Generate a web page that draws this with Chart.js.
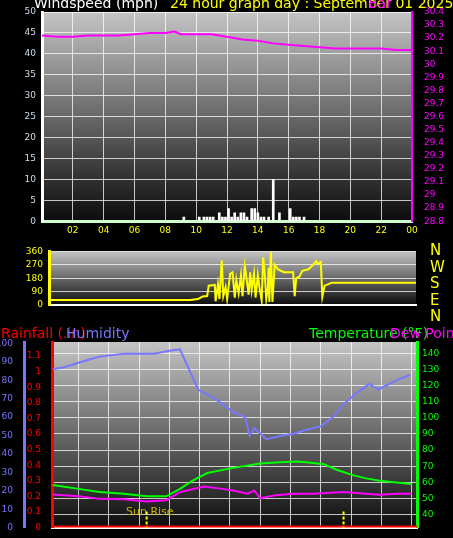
<!DOCTYPE html>
<html><head><meta charset="utf-8">
<script src="https://cdn.jsdelivr.net/npm/chart.js@4/dist/chart.umd.min.js"></script>
<style>
body{margin:0;background:#000;width:453px;height:538px;overflow:hidden;font-family:"DejaVu Sans",sans-serif}
.box{position:absolute;left:0;width:453px}
.t{position:absolute;font-size:14px;white-space:nowrap;line-height:16px}
</style></head><body>
<div class="box" style="top:0;height:240px"><canvas id="c1"></canvas></div>
<div class="box" style="top:240px;height:80px"><canvas id="c2"></canvas></div>
<div class="box" style="top:320px;height:218px"><canvas id="c3"></canvas></div>
<div class="t" style="left:34px;top:-5px;color:#fff">Windspeed (mph)</div>
<div class="t" style="left:170px;top:-5px;color:#ff0">24 hour graph day : September 01 2025</div>
<div class="t" style="left:368px;top:-5px;color:#f0f">Bar</div>
<div class="t" style="left:430px;top:242px;color:#ff0;line-height:16.5px;font-size:15px">N<br>W<br>S<br>E<br>N</div>
<div class="t" style="left:1px;top:325px;color:#f00">Rainfall (.in)</div>
<div class="t" style="left:66px;top:325px;color:#77f">Humidity</div>
<div class="t" style="left:309px;top:325px;color:#0f0">Temperature (°F)</div>
<div class="t" style="left:390px;top:325px;color:#f0f">Dew Point</div>
<div class="t" style="left:126px;top:504px;color:#c8b400;font-size:11px">Sun Rise</div>
<script>
// --- data ---
const evenHours = [2,4,6,8,10,12,14,16,18,20,22,24];
const hourLabels = ['02','04','06','08','10','12','14','16','18','20','22','00'];
const humTicks = [0,10,20,30,40,50,60,70,80,90,100];
const rainTicks = [0,0.1,0.2,0.3,0.4,0.5,0.6,0.7,0.8,0.9,1,1.1];
const tempTicks = [40,50,60,70,80,90,100,110,120,130,140];

const baroHours = [0,1,2,3,4,5,6,7,8,8.6,9,10,11,12,13,14,15,16,17,18,19,20,21,22,23,24];
const baroValues = [30.22,30.21,30.21,30.22,30.22,30.22,30.23,30.24,30.24,30.25,30.23,30.23,30.23,30.21,30.19,30.18,30.16,30.15,30.14,30.13,30.12,30.12,30.12,30.12,30.11,30.11];

const windHours = [9.2,10.2,10.5,10.7,10.9,11.1,11.5,11.7,11.9,12.1,12.3,12.5,12.7,12.9,13.1,13.3,13.6,13.8,14.0,14.2,14.4,14.7,15.0,15.4,16.1,16.3,16.5,16.7,17.0];
const windSpeeds = [1,1,1,1,1,1,2,1,1,3,1,2,1,2,2,1,3,3,2,1,1,1,10,2,3,1,1,1,1];

const dirHours = [0.5,9.7,10.2,10.5,10.8,10.9,11.3,11.35,11.5,11.6,11.75,11.85,12.0,12.1,12.3,12.45,12.6,12.7,12.85,13.0,13.1,13.25,13.35,13.5,13.6,13.7,13.85,13.95,14.1,14.2,14.35,14.45,14.55,14.65,14.75,14.8,14.85,14.95,15.05,15.2,15.4,15.8,16.4,16.5,16.6,16.8,17.0,17.4,17.7,17.9,18.0,18.2,18.3,18.45,18.7,18.9,24.4];
const dirValues = [34,34,40,57,60,130,135,25,140,40,300,60,120,40,210,220,50,170,80,200,60,260,190,70,220,100,210,50,200,120,30,320,210,40,110,250,20,360,20,270,240,220,220,60,180,190,230,240,270,295,275,290,55,130,140,150,150];

const humHours = [0.3,1,2,3,3.5,5,7,8,8.7,9.4,9.9,11,12.2,13,13.3,13.6,14.4,15.5,16.2,17,18,18.8,19.5,20.5,21.2,21.8,23,23.9];
const humValues = [86,87,89.5,92,93,94.4,94.4,96,96.8,84,75,70,62.7,60,50,54,48,50,51,53,55,60,67,74,78,75,80,83];

const tempHours = [0.3,2,3.4,5,6.5,7.8,8.7,9.5,10.5,12.2,14,15,16.4,17.2,18.2,19,20.1,21,21.9,23,24];
const tempValues = [58.4,56,54,53,51.5,51.4,56,61,65.8,69,71.7,72.3,72.9,72.3,71.3,68,64.5,62.5,61,60,59];

const dewHours = [0.3,2,3.4,5,6.5,7.8,8.7,10.3,11.5,12.2,13.2,13.6,14,15,16.2,17.5,19.5,21,21.9,23,24];
const dewValues = [52.5,51.5,49.8,49.5,48.2,49,54,57.4,56,55,53,55,50.2,52,53,53,54,53,52.3,53,53];

const rainHours = [0.25,24.35];
const rainValues = [0,0];
const sunHours = [6.5,19.5];

const pts = (xs, ys) => xs.map((x, i) => ({x: x, y: ys[i]}));
const font = {family: 'DejaVu Sans', size: 9};
const grid = {color: 'rgba(255,255,255,0.75)', borderDash: [2,2], lineWidth: 1, drawTicks: false};

const bgPlugin = {
  id: 'bg',
  beforeDraw(chart) {
    const a = chart.chartArea, ctx = chart.ctx;
    const g = ctx.createLinearGradient(0, a.top, 0, a.bottom);
    g.addColorStop(0, '#c4c4c4');
    g.addColorStop(1, '#0c0c0c');
    ctx.fillStyle = g;
    ctx.fillRect(a.left, a.top, a.right - a.left, a.bottom - a.top);
  }
};
const sunPlugin = {
  id: 'sun',
  afterDatasetsDraw(chart) {
    const ctx = chart.ctx, x = chart.scales.x, a = chart.chartArea;
    ctx.save();
    ctx.strokeStyle = '#ff0'; ctx.lineWidth = 2; ctx.setLineDash([3,2]);
    sunHours.forEach(h => {
      const px = x.getPixelForValue(h);
      ctx.beginPath(); ctx.moveTo(px, a.bottom - 16); ctx.lineTo(px, a.bottom); ctx.stroke();
    });
    ctx.restore();
  }
};
const fixW = w => function(s) { s.width = w; };
const setTicks = list => s => { s.ticks = list.map(v => ({value: v})); };

// Windspeed + barometer
new Chart(document.getElementById('c1'), {
  type: 'bar',
  data: {datasets: [
    {type: 'line', data: pts(baroHours, baroValues), yAxisID: 'yb', borderColor: '#f0f', borderWidth: 2, pointRadius: 0, tension: 0},
    {data: pts(windHours, windSpeeds), backgroundColor: '#fff', barThickness: 2, yAxisID: 'y'}
  ]},
  options: {
    animation: false, responsive: true, maintainAspectRatio: false,
    layout: {padding: {top: 12}},
    plugins: {legend: {display: false}, tooltip: {enabled: false}},
    scales: {
      x: {type: 'linear', offset: false, min: 0, max: 24, grid: {...grid, offset: false}, border: {color: '#cfc', width: 3},
          afterBuildTicks: setTicks(evenHours),
          ticks: {color: '#ff0', font: font, padding: 4, callback: v => hourLabels[evenHours.indexOf(v)]}},
      y: {min: 0, max: 50, position: 'left', afterFit: fixW(42), grid: grid, border: {color: '#fff', width: 3},
          ticks: {stepSize: 5, autoSkip: false, color: '#cde', font: font, padding: 6}},
      yb: {min: 28.8, max: 30.4, position: 'right', afterFit: fixW(41), grid: {display: false}, border: {color: '#f0f', width: 2},
          ticks: {stepSize: 0.1, autoSkip: false, color: '#f0f', font: font, padding: 4, callback: v => Math.round(v * 10) / 10}}
    }
  },
  plugins: [bgPlugin]
});

// Wind direction
new Chart(document.getElementById('c2'), {
  type: 'line',
  data: {datasets: [
    {data: pts(dirHours, dirValues), borderColor: '#ff0', borderWidth: 2, pointRadius: 0, tension: 0}
  ]},
  options: {
    animation: false, responsive: true, maintainAspectRatio: false,
    layout: {padding: {top: 7, bottom: 7, right: 37}},
    plugins: {legend: {display: false}, tooltip: {enabled: false}},
    scales: {
      x: {type: 'linear', min: 0.5, max: 24.4, grid: {display: false}, border: {color: '#fff', width: 2},
          ticks: {display: false}},
      y: {min: 0, max: 360, afterFit: fixW(49), grid: grid, border: {color: '#ff0', width: 3},
          ticks: {stepSize: 90, autoSkip: false, color: '#ff0', font: font, padding: 6}}
    }
  },
  plugins: [bgPlugin]
});

// Rainfall / humidity / temperature / dew point
new Chart(document.getElementById('c3'), {
  type: 'line',
  data: {datasets: [
    {data: pts(humHours, humValues), yAxisID: 'yh', borderColor: '#77f', borderWidth: 2, pointRadius: 0, tension: 0},
    {data: pts(tempHours, tempValues), yAxisID: 'yt', borderColor: '#0f0', borderWidth: 2, pointRadius: 0, tension: 0},
    {data: pts(dewHours, dewValues), yAxisID: 'yt', borderColor: '#f0f', borderWidth: 2, pointRadius: 0, tension: 0},
    {data: pts(rainHours, rainValues), yAxisID: 'yr', borderColor: '#f00', borderWidth: 4, pointRadius: 0}
  ]},
  options: {
    animation: false, responsive: true, maintainAspectRatio: false,
    layout: {padding: {top: 22}},
    plugins: {legend: {display: false}, tooltip: {enabled: false}},
    scales: {
      x: {type: 'linear', min: 0.25, max: 24.35, grid: grid, border: {color: '#fff', width: 2},
          afterBuildTicks: setTicks(evenHours), afterFit: s => { s.height = 8; },
          ticks: {display: false}},
      yh: {min: 0, max: 100.8, position: 'left', weight: 2, afterFit: fixW(24), grid: {display: false}, border: {color: '#77f', width: 3},
           afterBuildTicks: setTicks(humTicks),
           ticks: {autoSkip: false, color: '#77f', font: font, padding: 3}},
      yr: {min: 0, max: 1.19, position: 'left', weight: 1, afterFit: fixW(28), grid: {display: false}, border: {color: '#f00', width: 3, dash: [3,2]},
           afterBuildTicks: setTicks(rainTicks),
           ticks: {autoSkip: false, color: '#f00', font: font, padding: 3, callback: v => (Math.round(v * 10) / 10).toString()}},
      yt: {min: 32, max: 147, position: 'right', afterFit: fixW(36), grid: grid, border: {color: '#0f0', width: 3},
           afterBuildTicks: setTicks(tempTicks),
           ticks: {autoSkip: false, color: '#0f0', font: font, padding: 5}}
    }
  },
  plugins: [bgPlugin, sunPlugin]
});
</script>
</body></html>
